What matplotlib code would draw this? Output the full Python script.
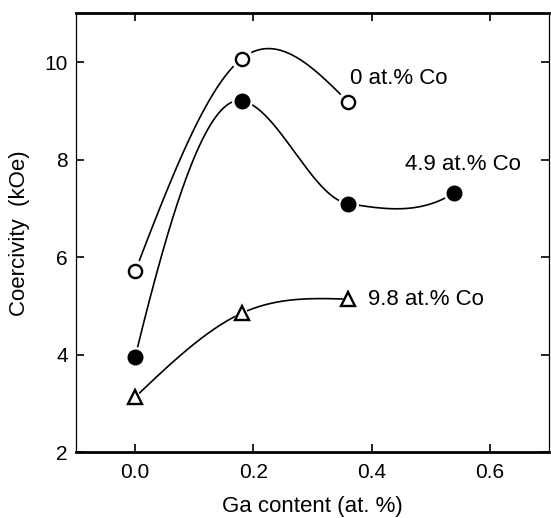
import numpy as np
import matplotlib
matplotlib.use("Agg")
import matplotlib.pyplot as plt

plt.rcParams['font.family'] = ['Liberation Sans', 'DejaVu Sans']

# ---- data ----
co0_x = [0.0, 0.18, 0.36]
co0_y = [5.71, 10.07, 9.19]
co49_x = [0.0, 0.18, 0.36, 0.54]
co49_y = [3.95, 9.21, 7.10, 7.32]
co98_x = [0.0, 0.18, 0.36]
co98_y = [3.13, 4.85, 5.14]
labels = ["0 at.% Co", "4.9 at.% Co", "9.8 at.% Co"]
xticks = [0.0, 0.2, 0.4, 0.6]
yticks = [2, 4, 6, 8, 10]


def natural_spline(x, y, n=200):
    x = np.asarray(x, float)
    y = np.asarray(y, float)
    m = len(x)
    h = np.diff(x)
    A = np.zeros((m, m))
    r = np.zeros(m)
    A[0, 0] = 1
    A[-1, -1] = 1
    for i in range(1, m - 1):
        A[i, i - 1] = h[i - 1]
        A[i, i] = 2 * (h[i - 1] + h[i])
        A[i, i + 1] = h[i]
        r[i] = 3 * ((y[i + 1] - y[i]) / h[i] - (y[i] - y[i - 1]) / h[i - 1])
    c = np.linalg.solve(A, r)
    xs = np.linspace(x[0], x[-1], n)
    ys = np.empty_like(xs)
    for k, xv in enumerate(xs):
        i = int(np.clip(np.searchsorted(x, xv, side='right') - 1, 0, m - 2))
        b = (y[i + 1] - y[i]) / h[i] - h[i] * (2 * c[i] + c[i + 1]) / 3
        d = (c[i + 1] - c[i]) / (3 * h[i])
        t = xv - x[i]
        ys[k] = y[i] + b * t + c[i] * t ** 2 + d * t ** 3
    return xs, ys


def akima(x, y, n=200):
    x = np.asarray(x, float)
    y = np.asarray(y, float)
    m = len(x)
    s = np.diff(y) / np.diff(x)
    ext = np.empty(len(s) + 4)
    ext[2:-2] = s
    ext[1] = 2 * ext[2] - ext[3]
    ext[0] = 2 * ext[1] - ext[2]
    ext[-2] = 2 * ext[-3] - ext[-4]
    ext[-1] = 2 * ext[-2] - ext[-3]
    t = np.empty(m)
    for i in range(m):
        m1, m2, m3, m4 = ext[i], ext[i + 1], ext[i + 2], ext[i + 3]
        w1, w2 = abs(m4 - m3), abs(m2 - m1)
        t[i] = (m2 + m3) / 2 if w1 + w2 == 0 else (w1 * m2 + w2 * m3) / (w1 + w2)
    xs = np.linspace(x[0], x[-1], n)
    ys = np.empty_like(xs)
    for k, xv in enumerate(xs):
        i = int(np.clip(np.searchsorted(x, xv, side='right') - 1, 0, m - 2))
        h = x[i + 1] - x[i]
        u = (xv - x[i]) / h
        h00 = 2 * u ** 3 - 3 * u ** 2 + 1
        h10 = u ** 3 - 2 * u ** 2 + u
        h01 = -2 * u ** 3 + 3 * u ** 2
        h11 = u ** 3 - u ** 2
        ys[k] = h00 * y[i] + h10 * h * t[i] + h01 * y[i + 1] + h11 * h * t[i + 1]
    return xs, ys


fig = plt.figure(figsize=(5.51, 5.18), dpi=100)
ax = fig.add_axes([0.138, 0.127, 0.858, 0.847])

for fn, xx, yy in [(natural_spline, co0_x, co0_y), (akima, co49_x, co49_y),
                   (natural_spline, co98_x, co98_y)]:
    xs, ys = fn(xx, yy)
    ax.plot(xs, ys, color='black', lw=1.2, zorder=2)

# white halos to create small gaps around markers
ax.plot(co0_x, co0_y, 'o', ms=15, color='white', zorder=3)
ax.plot(co49_x, co49_y, 'o', ms=14, color='white', zorder=3)
ax.plot(co98_x, co98_y, '^', ms=15, color='white', zorder=3)

ax.plot(co0_x, co0_y, 'o', ms=9.5, mfc='white', mec='black', mew=1.7, zorder=4)
ax.plot(co49_x, co49_y, 'o', ms=10.5, mfc='black', mec='black', zorder=4)
ax.plot(co98_x, co98_y, '^', ms=9.5, mfc='white', mec='black', mew=1.7, zorder=4)

ax.text(0.364, 9.67, labels[0], fontsize=16, va='center', ha='left')
ax.text(0.457, 7.91, labels[1], fontsize=16, va='center', ha='left')
ax.text(0.394, 5.13, labels[2], fontsize=16, va='center', ha='left')

ax.set_xlim(-0.1, 0.7)
ax.set_ylim(2, 11)
ax.set_xticks(xticks)
ax.set_xticklabels([f"{v:.1f}" for v in xticks])
ax.set_yticks(yticks)
ax.set_yticklabels([str(v) for v in yticks])
ax.tick_params(direction='in', length=6, width=1.2, labelsize=15,
               top=True, right=True)
ax.tick_params(axis='x', pad=8)
ax.tick_params(axis='y', pad=6)

ax.spines['top'].set_linewidth(2.0)
ax.spines['bottom'].set_linewidth(2.0)
ax.spines['left'].set_linewidth(0.9)
ax.spines['right'].set_linewidth(0.9)

ax.set_xlabel("Ga content (at. %)", fontsize=16, labelpad=10)
ax.set_ylabel("Coercivity  (kOe)", fontsize=16, labelpad=10)

fig.savefig("out.png", dpi=100)
